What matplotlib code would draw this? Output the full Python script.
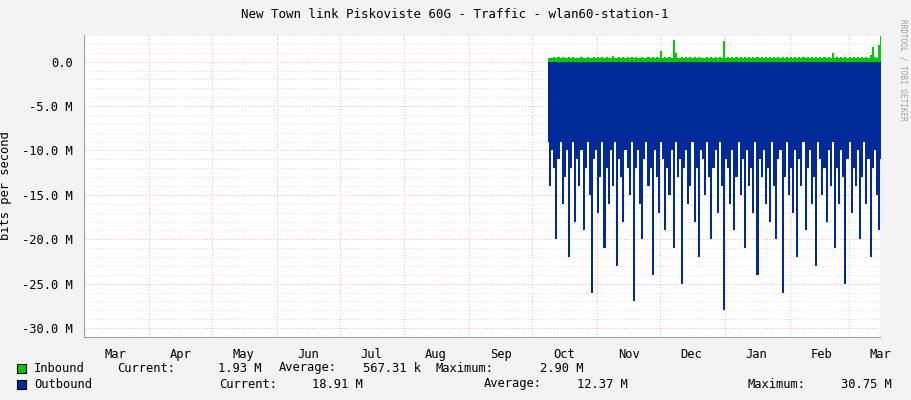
import matplotlib
matplotlib.use("Agg")
import matplotlib.pyplot as plt
import numpy as np

plt.rcParams['font.family'] = ['DejaVu Sans Mono']

month_labels = ["Mar","Apr","May","Jun","Jul","Aug","Sep","Oct","Nov","Dec","Jan","Feb","Mar"]
month_starts = [0,31,61,92,122,153,184,214,245,275,306,337,365]
data_start_day = 221
outbound = [9,14,10,12,20,11,9,16,13,10,22,12,9,18,11,14,10,19,12,9,
            15,26,11,10,17,13,9,21,12,16,10,14,9,23,11,13,18,10,12,15,
            9,27,12,10,16,20,11,9,14,12,24,10,13,17,9,11,19,12,15,10,
            21,9,13,11,25,12,10,16,14,9,18,12,22,10,11,15,9,13,20,12,
            10,17,9,14,28,11,12,16,10,19,13,9,15,11,21,10,14,12,17,9,
            24,11,13,10,16,12,18,9,14,20,11,10,26,13,9,15,12,17,10,22,
            11,14,9,19,12,10,16,13,23,9,11,15,12,18,10,14,9,21,12,16,
            10,13,25,11,9,17,12,14,10,20,13,9,16,11,22,12,10,15,19,11]
inbound = [0.40,0.45,0.38,0.50,0.42,0.47,0.39,0.55,0.41,0.44,0.48,0.40,0.52,0.43,0.46,0.39,0.50,0.44,0.41,0.57,
           0.42,0.45,0.48,0.40,0.53,0.44,0.47,0.41,0.50,0.43,0.46,0.60,0.42,0.45,0.49,0.41,0.52,0.44,0.47,0.40,
           0.48,0.43,0.55,0.42,0.46,0.50,0.41,0.45,0.49,0.43,0.52,0.44,0.47,0.40,1.20,0.45,0.48,0.42,0.51,0.44,
           2.40,1.00,0.46,0.42,0.50,0.44,0.47,0.41,0.53,0.45,0.48,0.43,0.51,0.44,0.46,0.42,0.50,0.45,0.48,0.43,
           0.52,0.44,0.47,0.41,2.30,0.45,0.49,0.43,0.51,0.44,0.47,0.42,0.50,0.46,0.48,0.43,0.53,0.44,0.47,0.42,
           0.50,0.45,0.48,0.43,0.52,0.44,0.47,0.42,0.51,0.45,0.48,0.43,0.50,0.44,0.47,0.42,0.52,0.45,0.48,0.43,
           0.51,0.44,0.47,0.42,0.50,0.45,0.48,0.43,0.53,0.44,0.47,0.42,0.50,0.45,0.48,0.43,1.00,0.44,0.47,0.42,
           0.51,0.45,0.48,0.43,0.50,0.44,0.47,0.42,0.52,0.45,0.48,0.43,0.51,0.44,0.70,1.60,0.48,0.45,1.90,2.90]

days = np.arange(data_start_day, data_start_day + len(outbound)) + 0.5

fig = plt.figure(figsize=(9.11, 4.0), dpi=100, facecolor='#F3F3F3')
ax = fig.add_axes([84/911, 1-337/400, (880-84)/911, (337-35)/400])
ax.set_facecolor('white')
ax.set_xlim(0, 380)
ax.set_ylim(-31, 3.0)

for y in np.arange(-31, 3.1, 1):
    if y % 5 != 0:
        ax.axhline(y, color='#DDDDDD', lw=0.7, ls=(0, (1, 2)), zorder=1)
for y in range(-30, 1, 5):
    ax.axhline(y, color='#F4B0B0', lw=0.7, ls=(0, (1, 2)), zorder=1)
for d in month_starts:
    ax.axvline(d, color='#F4B0B0', lw=0.7, ls=(0, (1, 2)), zorder=1)

ax.fill_between(days, 0, -np.array(outbound), step='mid', color='#002A97', lw=0, zorder=2)
ax.fill_between(days, 0, np.array(inbound), step='mid', color='#00CC00', lw=0, zorder=2)

ax.set_yticks(range(-30, 1, 5))
ax.set_yticklabels(["-30.0 M","-25.0 M","-20.0 M","-15.0 M","-10.0 M","-5.0 M","0.0"])
ax.set_xticks([s + 15 for s in month_starts])
ax.set_xticklabels(month_labels)
ax.tick_params(axis='both', length=0, labelsize=8.7, pad=8)
for s in ['top', 'right']:
    ax.spines[s].set_visible(False)
ax.spines['left'].set_color('#A0A0A0')
ax.spines['bottom'].set_color('#A0A0A0')
ax.set_ylabel('bits per second', fontsize=8.7)
ax.yaxis.set_label_coords(-0.09, 0.5)

fig.text(455/911, 1-15/400, 'New Town link Piskoviste 60G - Traffic - wlan60-station-1',
         ha='center', va='center', fontsize=9)
fig.text(903/911, 1-70/400, 'RRDTOOL / TOBI OETIKER', rotation=270, ha='center', va='center',
         fontsize=5.5, color='#A0A0A0')

fs = 8.7
fig.patches.append(plt.Rectangle((17/911, 1-373/400), 9/911, 9/400, transform=fig.transFigure,
                                 facecolor='#00CC00', edgecolor='black', lw=0.8))
fig.patches.append(plt.Rectangle((17/911, 1-389/400), 9/911, 9/400, transform=fig.transFigure,
                                 facecolor='#002A97', edgecolor='black', lw=0.8))
def t(x, y, s, ha='left'):
    fig.text(x/911, 1-y/400, s, fontsize=fs, va='center', ha=ha)
t(34, 368, 'Inbound'); t(117, 368, 'Current:'); t(261, 368, '1.93 M', 'right')
t(279, 368, 'Average:'); t(421, 368, '567.31 k', 'right')
t(435, 368, 'Maximum:'); t(584, 368, '2.90 M', 'right')
t(34, 384, 'Outbound'); t(219, 384, 'Current:'); t(363, 384, '18.91 M', 'right')
t(484, 384, 'Average:'); t(628, 384, '12.37 M', 'right')
t(748, 384, 'Maximum:'); t(892, 384, '30.75 M', 'right')

fig.savefig('out.png', dpi=100, facecolor=fig.get_facecolor())
